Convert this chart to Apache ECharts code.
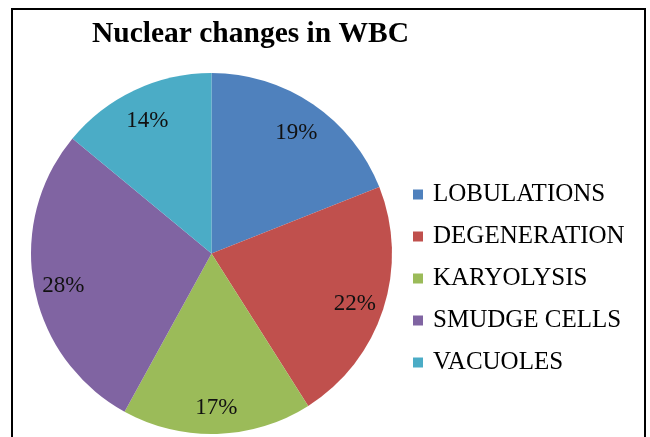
<!DOCTYPE html>
<html><head><meta charset="utf-8">
<script src="https://cdn.jsdelivr.net/npm/echarts@6/dist/echarts.min.js"></script>
<style>html,body{margin:0;padding:0;background:#fff}#c{width:650px;height:437px}</style>
</head><body><div id="c"></div>
<script>
const categories = ['LOBULATIONS','DEGENERATION','KARYOLYSIS','SMUDGE CELLS','VACUOLES'];
const values = [19, 22, 17, 28, 14];
const colors = ['#4F81BD','#C0504D','#9BBB59','#8064A2','#4BACC6'];
const titleText = 'Nuclear changes in WBC';

const data = categories.map((n,i)=>({name:n, value:values[i], itemStyle:{color:colors[i]}}));
const serif = '"Liberation Serif","Times New Roman",serif';
const chart = echarts.init(document.getElementById('c'), null, {renderer:'canvas'});
chart.setOption({
  animation:false,
  color: colors,
  title:{text:titleText, left:245.5, top:14, textAlign:'center',
    textStyle:{fontFamily:serif, fontWeight:'bold', fontSize:29.5, color:'#000'}},
  graphic:[{type:'rect', shape:{x:12,y:9,width:633,height:460}, style:{fill:'none', stroke:'#000', lineWidth:2}, silent:true, z:100}],
  legend:{orient:'vertical', left:408, top:177, itemWidth:10, itemHeight:10, itemGap:17,
    icon:'rect', selectedMode:false,
    textStyle:{fontFamily:serif, fontSize:25, color:'#000', padding:[0,0,0,5]},
    data:categories},
  series:[
    {type:'pie', center:[211.5,253.5], radius:[0,180.5], startAngle:90, clockwise:true,
     label:{show:false}, labelLine:{show:false}, data:data, silent:true,
     itemStyle:{borderWidth:0}},
    {type:'pie', center:[211.5,253.5], radius:[115,180.5], startAngle:90, clockwise:true,
     silent:true, legendHoverLink:false,
     itemStyle:{color:'rgba(0,0,0,0)', borderWidth:0},
     label:{show:true, position:'inside', formatter:'{d}%', fontFamily:serif, fontSize:23, color:'#111', offset:[0,4]},
     labelLine:{show:false},
     data:categories.map((n,i)=>({name:n+' ', value:values[i]}))}
  ]
});
</script></body></html>
